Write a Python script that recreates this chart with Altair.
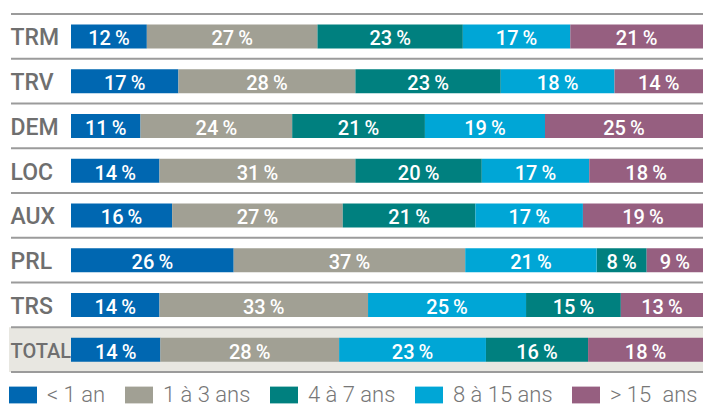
import altair as alt
import pandas as pd

rows = ["TRM", "TRV", "DEM", "LOC", "AUX", "PRL", "TRS", "TOTAL"]
classes = ["< 1 an", "1 à 3 ans", "4 à 7 ans", "8 à 15 ans", "> 15\u2002ans"]
colors = ["#0067b1", "#a1a094", "#00807f", "#00a6d6", "#965f80"]

lt1 = [12, 17, 11, 14, 16, 26, 14, 14]
y1_3 = [27, 28, 24, 31, 27, 37, 33, 28]
y4_7 = [23, 23, 21, 20, 21, 8, 15, 16]
y8_15 = [17, 18, 19, 17, 17, 21, 25, 23]
gt15 = [21, 14, 25, 18, 19, 9, 13, 18]
# stacking position of each class in each row (rows PRL, TRS, TOTAL show 8-15 before 4-7)
pos_4_7 = [3, 3, 3, 3, 3, 4, 4, 4]
pos_8_15 = [4, 4, 4, 4, 4, 3, 3, 3]

series = [lt1, y1_3, y4_7, y8_15, gt15]
recs = []
for i, r in enumerate(rows):
    positions = [1, 2, pos_4_7[i], pos_8_15[i], 5]
    for c, vals, p in zip(classes, series, positions):
        recs.append({"row": r, "cls": c, "value": vals[i], "pos": p})
df = pd.DataFrame(recs)

W = 632
H = 358

yscale = alt.Scale(domain=rows, paddingInner=0, paddingOuter=0)
yaxis = alt.Axis(labelAlign="left", labelPadding=61, ticks=False, domain=False,
                 labelFont={"condition": {"test": "datum.value == 'TOTAL'",
                                          "value": "Liberation Sans Narrow, Roboto"},
                            "value": "Roboto"},
                 labelFontWeight=500,
                 labelFontSize={"condition": {"test": "datum.value == 'TOTAL'", "value": 20}, "value": 23},
                 labelColor="#6f6f6f", labelBaseline="middle", labelOffset=2, grid=False)


def ych(**kw):
    return alt.Y("row:N", scale=yscale, title=None, axis=yaxis, **kw)


base = alt.Chart(df).transform_stack(
    stack="value", groupby=["row"], sort=[alt.SortField("pos")],
    as_=["x0", "x1"], offset="normalize"
).transform_calculate(
    mid="(datum.x0 + datum.x1) / 2",
    label="datum.value + '\u2009%'"
)

xscale = alt.Scale(domain=[0, 1], nice=False, zero=False)

bg = alt.Chart(pd.DataFrame({"row": ["TOTAL"]})).mark_rect(color="#e8e7e1").encode(
    y=ych(),
    x=alt.value(-62), x2=alt.value(W)
)

rules_top = alt.Chart(pd.DataFrame({"row": rows})).mark_rule(color="#9b9b9b", strokeWidth=2).encode(
    y=ych(bandPosition=0),
    x=alt.value(-60), x2=alt.value(W)
)
rule_bottom = alt.Chart(pd.DataFrame({"row": ["TOTAL"]})).mark_rule(color="#9b9b9b", strokeWidth=2).encode(
    y=ych(bandPosition=1),
    x=alt.value(-60), x2=alt.value(W)
)

bars = base.mark_bar(height=24).encode(
    x=alt.X("x0:Q", scale=xscale, axis=None),
    x2="x1:Q",
    y=ych(),
    color=alt.Color("cls:N", scale=alt.Scale(domain=classes, range=colors),
                    legend=alt.Legend(orient="none", legendX=-62, legendY=367, direction="horizontal",
                                      columns=5, title=None,
                                      symbolType="M-1,-0.6H1V0.6H-1Z", symbolSize=784,
                                      symbolStrokeWidth=0, symbolOpacity=1,
                                      labelFont="Roboto", labelFontWeight=300, labelFontSize=22,
                                      labelColor="#777777", labelOffset=10, columnPadding=19))
)

texts = base.mark_text(color="white", font="Roboto", fontWeight=500, fontSize=20,
                       baseline="alphabetic", dy=9).encode(
    x=alt.X("mid:Q", scale=xscale, axis=None),
    y=ych(),
    text="label:N"
)

chart = alt.layer(bg, bars, texts, rules_top, rule_bottom).properties(
    width=W, height=H,
    autosize=alt.AutoSizeParams(type="none"),
    padding={"left": 63, "top": 6, "right": 0, "bottom": 35}
).configure_view(stroke=None)

chart.save("out.html", embed_options={"renderer": "svg", "actions": False})
